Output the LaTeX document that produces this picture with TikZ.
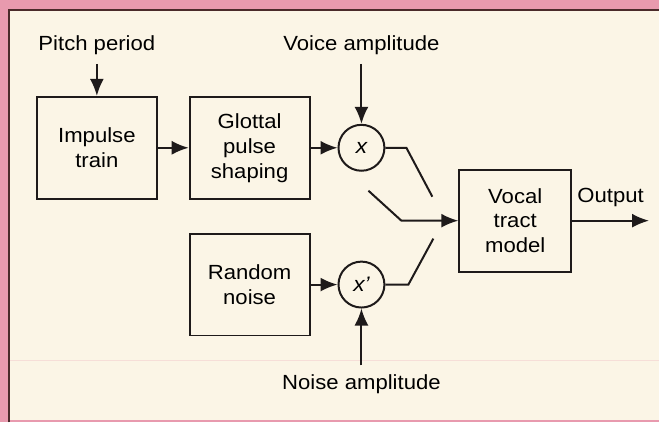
\documentclass[tikz,border=0pt]{standalone}
\usepackage{fontspec}
\setmainfont{Liberation Sans}[FakeStretch=1.08]
\usetikzlibrary{arrows.meta,positioning}
\usepackage{xcolor}
\definecolor{pinkbg}{HTML}{E89AAE}
\definecolor{cream}{HTML}{FBF5E6}
\definecolor{ink}{HTML}{1E1A1A}
\definecolor{edge}{HTML}{4A2A2A}
\tikzset{
  block/.style={draw=ink, line width=2pt, align=center, minimum width=120pt, minimum height=102pt, inner sep=2pt, font=\fontsize{20.5}{25}\selectfont},
  mult/.style={circle, draw=ink, line width=2pt, minimum size=46pt, inner sep=0pt, font=\fontsize{21}{24}\selectfont\itshape},
  lbl/.style={inner sep=0pt, outer sep=0pt, font=\fontsize{20.5}{24}\selectfont},
  arrow/.style={-{Latex[length=17pt,width=14pt]}, line width=2pt, draw=ink},
  wire/.style={line width=2pt, draw=ink}
}

\begin{document}
\begin{tikzpicture}[x=1pt, y=-1pt, node distance=31pt]
  % page and frame
  \fill[pinkbg] (0,0) rectangle (660,423);
  \fill[cream] (9,10) rectangle (660,421);
  \draw[edge, line width=2pt] (9,423) -- (9,10) -- (660,10);
  \draw[pinkbg!25!cream, line width=1.5pt] (10,361) -- (660,361);

  % blocks
  \node[block] (imp) at (97,148) {Impulse\\train};
  \node[block, right=of imp] (glot) {Glottal\\pulse\\shaping};
  \node[block, below=33pt of glot] (rnd) {Random\\noise};
  \node[mult, right=27pt of glot] (mulv) {x};
  \node[mult] (muln) at (mulv |- rnd) {x'};
  \node[block, minimum width=112pt] (vt) at (516,221) {Vocal\\tract\\model};

  % inputs
  \node[lbl, above=41pt of imp] (pitch) {Pitch period};
  \node[lbl] (vamp) at (mulv |- pitch) {Voice amplitude};
  \node[lbl, below=66pt of muln] (namp) {Noise amplitude};

  \draw[arrow, shorten <=9pt] (pitch) -- (imp);
  \draw[arrow, shorten <=9pt] (vamp) -- (mulv);
  \draw[arrow, shorten <=9pt] (namp) -- (muln);
  \draw[arrow] (imp) -- (glot);
  \draw[arrow] (glot) -- (mulv);
  \draw[arrow] (rnd) -- (muln);

  % switch
  \coordinate[left=57pt of vt] (pole);
  \draw[wire] (mulv.east) -- ++(21,0) -- ++(26,49);
  \draw[wire] (muln.east) -- ++(23,0) -- ++(25,-46);
  \draw[arrow] ([shift={(-33,-30)}]pole) -- (pole) -- (vt);

  % output
  \coordinate[right=77pt of vt] (outend);
  \draw[arrow] (vt) -- (outend) node[lbl, midway, above=14pt] (out) {Output};
\end{tikzpicture}
\end{document}
